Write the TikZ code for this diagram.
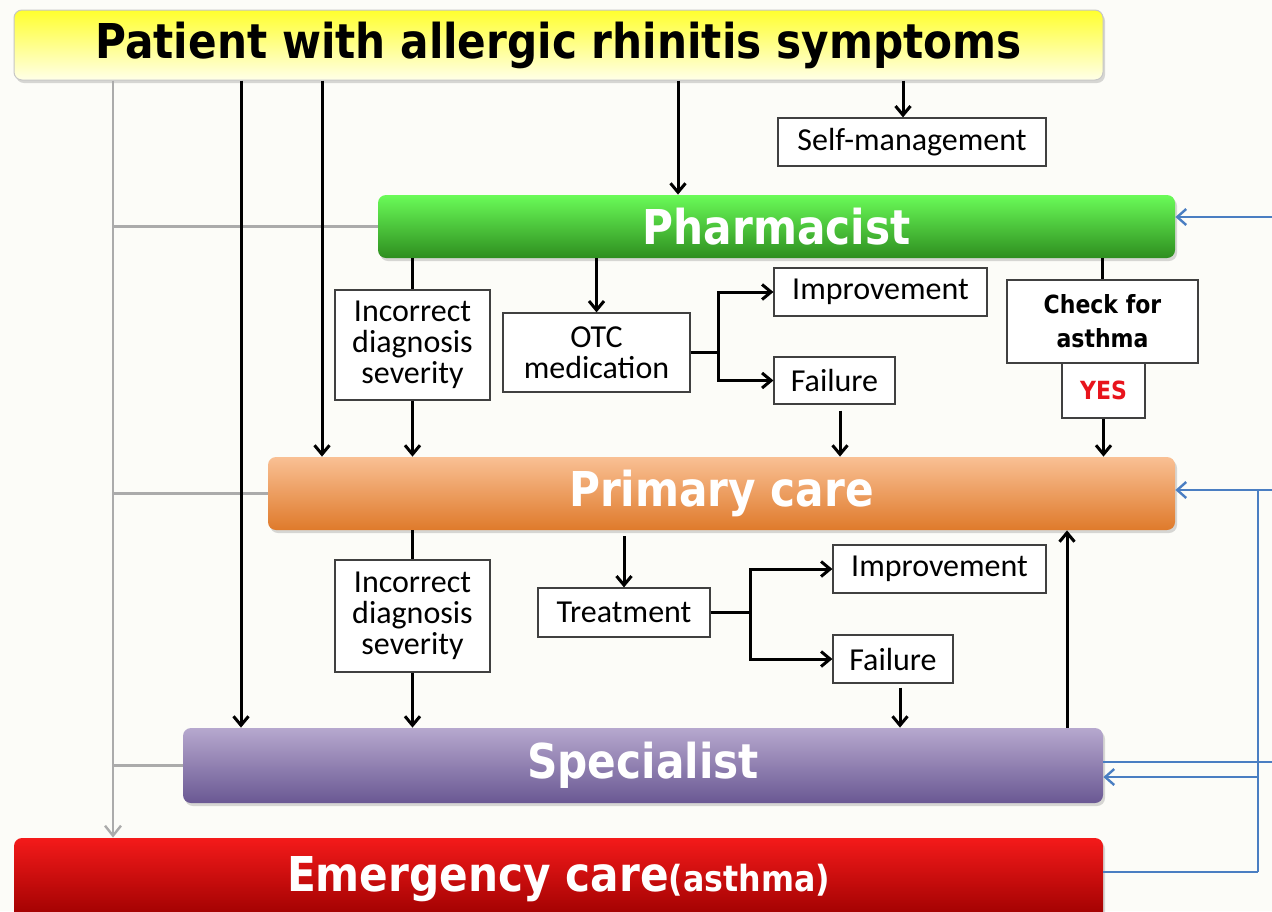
\documentclass[tikz,border=0pt]{standalone}
\usepackage{fontspec}
\setmainfont{Carlito}
\newfontfamily\barfont{DejaVu Sans}[FakeStretch=0.88]
\usetikzlibrary{arrows.meta,shadows,calc}
\definecolor{bgc}{HTML}{FCFCF8}
\definecolor{yelT}{HTML}{FFFF2E}
\definecolor{yelB}{HTML}{FFFFE8}
\definecolor{grnT}{HTML}{6AFB58}
\definecolor{grnB}{HTML}{2E8E1F}
\definecolor{orgT}{HTML}{F9C094}
\definecolor{orgB}{HTML}{DF7A2B}
\definecolor{purT}{HTML}{B6A8CE}
\definecolor{purB}{HTML}{6A5893}
\definecolor{redT}{HTML}{F41A1A}
\definecolor{redB}{HTML}{9C0000}
\definecolor{blueln}{HTML}{4A7EC2}
\definecolor{grayln}{HTML}{ABABAB}
\definecolor{yesred}{HTML}{E8141C}
\begin{document}
\begin{tikzpicture}[x=0.5pt,y=-0.5pt,
  bar/.style={rounded corners=4pt, inner sep=0pt,
    font=\barfont\bfseries\fontsize{24}{28}\selectfont, text=white,
    drop shadow={shadow xshift=1pt,shadow yshift=-1.5pt,opacity=0.3}},
  box/.style={draw=black!75, line width=0.6pt, fill=white, inner sep=0pt,
    font=\fontsize{16}{15.5}\selectfont, align=center},
  boldbox/.style={box, font=\barfont\bfseries\fontsize{12.5}{17}\selectfont},
  ln/.style={black, line width=1.5pt},
  arr/.style={ln, -{Straight Barb[length=4.5pt,width=7.5pt,line width=1.5pt]}},
  gr/.style={grayln, line width=1.2pt},
  bl/.style={blueln, line width=1.2pt},
  blarr/.style={bl, -{Straight Barb[length=4.5pt,width=8pt,line width=1.2pt]}},
]
\fill[bgc] (0,0) rectangle (1272,911);
\useasboundingbox (0,0) rectangle (1272,911);

% bars
\node[bar, draw=gray!45, line width=0.5pt, top color=yelT, bottom color=yelB, text=black,
  minimum width=544.5pt, minimum height=35pt] (patient) at (558.5,45) {Patient with allergic rhinitis symptoms};
\node[bar, top color=grnT, bottom color=grnB, minimum width=398.5pt, minimum height=31.5pt] (pharm) at (776.5,226.5) {Pharmacist};
\node[bar, top color=orgT, bottom color=orgB, minimum width=453.5pt, minimum height=36.5pt] (prim) at (721.5,493.5) {Primary care};
\node[bar, top color=purT, bottom color=purB, minimum width=460pt, minimum height=37.5pt] (spec) at (643,765.5) {Specialist};
\node[bar, top color=redT, bottom color=redB, minimum width=544.5pt, minimum height=41pt] (emerg) at (558.5,879)
  {Emergency care{\fontsize{18}{20}\selectfont(asthma)}};

% boxes
\node[box, minimum width=134pt, minimum height=24pt] (selfm) at (912,142) {Self-management};
\node[box, minimum width=77.5pt, minimum height=55pt] (inc1) at (412.5,345) {Incorrect\\diagnosis\\severity};
\node[box, minimum width=93.5pt, minimum height=39.5pt] (otc) at (596.5,352.5) {OTC\\medication};
\node[box, minimum width=106.5pt, minimum height=24pt] (impr1) at (880.5,292) {Improvement};
\node[box, minimum width=60.5pt, minimum height=23.5pt] (fail1) at (834.5,380.5) {Failure};
\node[boldbox, minimum width=95.5pt, minimum height=41.5pt] (check) at (1102.5,321.5) {Check for\\asthma};
\node[boldbox, text=yesred, minimum width=41.5pt, minimum height=27.5pt] (yes) at (1103.5,390.5) {YES};
\node[box, minimum width=77.5pt, minimum height=56pt] (inc2) at (412.5,616) {Incorrect\\diagnosis\\severity};
\node[box, minimum width=86pt, minimum height=24.5pt] (treat) at (624,612.5) {Treatment};
\node[box, minimum width=106.5pt, minimum height=24pt] (impr2) at (939.5,569) {Improvement};
\node[box, minimum width=60pt, minimum height=24pt] (fail2) at (893,659) {Failure};

% lanes
\coordinate (xg) at (113,0);
\coordinate (xa) at (241,0);
\coordinate (xb) at (322,0);
\coordinate (xc) at (678,0);
\coordinate (xd) at (903,0);
\coordinate (xe) at (1067,0);
\coordinate (xf) at (900,0);
\coordinate (xh) at (840,0);
\coordinate (xv) at (1258,0);
\coordinate (b1) at (1272,217);
\coordinate (b2) at (1272,490);
\coordinate (b3) at (1272,762);
\coordinate (b4) at (1258,777);
\coordinate (b5) at (1258,872);

% gray connectors
\draw[gr, -{Straight Barb[length=5pt,width=8pt,line width=1.2pt]}] (xg |- patient.south) -- (xg |- emerg.north);
\draw[gr] (xg |- pharm.west) -- (pharm.west);
\draw[gr] (xg |- prim.west) -- (prim.west);
\draw[gr] (xg |- spec.west) -- (spec.west);

% black connectors
\draw[arr] (xa |- patient.south) -- (xa |- spec.north);
\draw[arr] (xb |- patient.south) -- (xb |- prim.north);
\draw[arr] (xc |- patient.south) -- (xc |- pharm.north);
\draw[arr] (xd |- patient.south) -- (xd |- selfm.north);

\draw[ln] (inc1.north |- pharm.south) -- (inc1.north);
\draw[arr] (inc1.south) -- (inc1.south |- prim.north);
\draw[arr] (otc.north |- pharm.south) -- (otc.north);
\draw[arr] (otc.east) -- ++(28,0) |- (impr1.west);
\draw[arr] (otc.east) -- ++(28,0) |- (fail1.west);
\draw[arr] (xh |- fail1.south) ++(0,6) -- (xh |- prim.north);
\draw[ln] (check.north |- pharm.south) -- (check.north);
\draw[arr] (yes.south) -- (yes.south |- prim.north);

\draw[ln] (inc2.north |- prim.south) -- (inc2.north);
\draw[arr] (inc2.south) -- (inc2.south |- spec.north);
\draw[arr] (treat.north |- prim.south) ++(0,6) -- (treat.north);
\draw[arr] (treat.east) -- ++(40,0) |- (impr2.west);
\draw[arr] (treat.east) -- ++(40,0) |- (fail2.west);
\draw[arr] (xf |- fail2.south) ++(0,4) -- (xf |- spec.north);
\draw[arr] (xe |- spec.north) -- (xe |- prim.south);

% blue connectors
\draw[blarr] (b1) -- (b1 -| pharm.east);
\draw[blarr] (b2) -- (b2 -| prim.east);
\draw[bl] (b2 -| xv) -- (b5);
\draw[bl] (b3) -- (b3 -| spec.east);
\draw[blarr] (b4) -- (b4 -| spec.east);
\draw[bl] (b5 -| emerg.east) -- (b5);
\end{tikzpicture}
\end{document}
